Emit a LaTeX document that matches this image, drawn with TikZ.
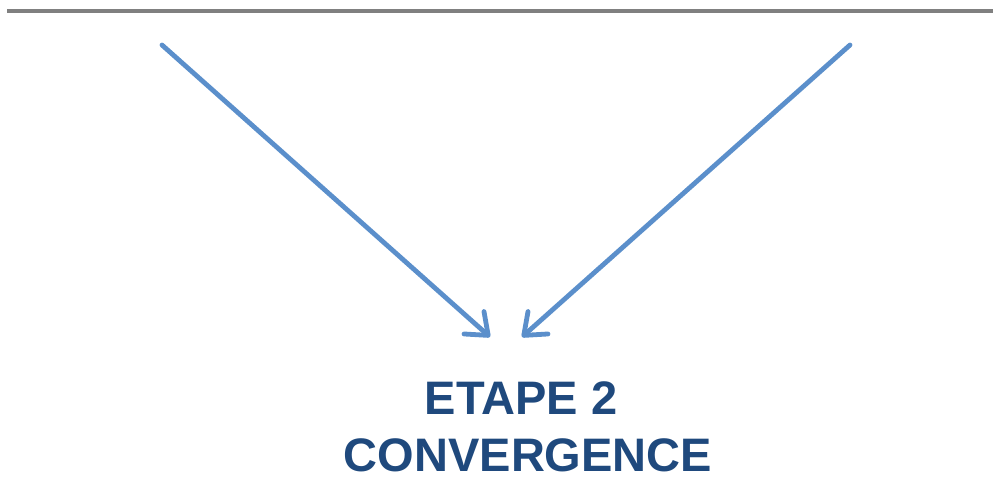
\documentclass[tikz,border=0pt]{standalone}
\usepackage{fontspec}
\setmainfont{Liberation Sans}
\usetikzlibrary{arrows.meta}
\definecolor{rulegray}{HTML}{808080}
\definecolor{arrowblue}{HTML}{5B8FCB}
\definecolor{titleblue}{HTML}{1F497D}
\begin{document}
\begin{tikzpicture}[x=0.5pt,y=-0.5pt,
  topline/.style={draw=rulegray,line width=2.2pt},
  flow/.style={draw=arrowblue,line width=2.4pt,line cap=round,
    -{Straight Barb[length=9.5pt,width=15pt,line cap=round,line join=round]}},
  title/.style={font=\bfseries\fontsize{23.5}{28}\selectfont,text=titleblue,inner sep=0pt,anchor=base}]
  \useasboundingbox (0,0) rectangle (993,480);
  % horizontal rule along the top
  \coordinate (ruleL) at (7,11);
  \coordinate (ruleR) at (993,11);
  \draw[topline] (ruleL) -- (ruleR);
  % converging arrows
  \coordinate (srcL) at (162,45);
  \coordinate (srcR) at (850,45);
  \coordinate (dstL) at (490,337);
  \coordinate (dstR) at (522,337);
  \draw[flow] (srcL) -- (dstL);
  \draw[flow] (srcR) -- (dstR);
  % caption
  \node[title] (step) at (521,415) {ETAPE 2};
  \node[title] (conv) at (528,472) {CONVERGENCE};
\end{tikzpicture}
\end{document}
